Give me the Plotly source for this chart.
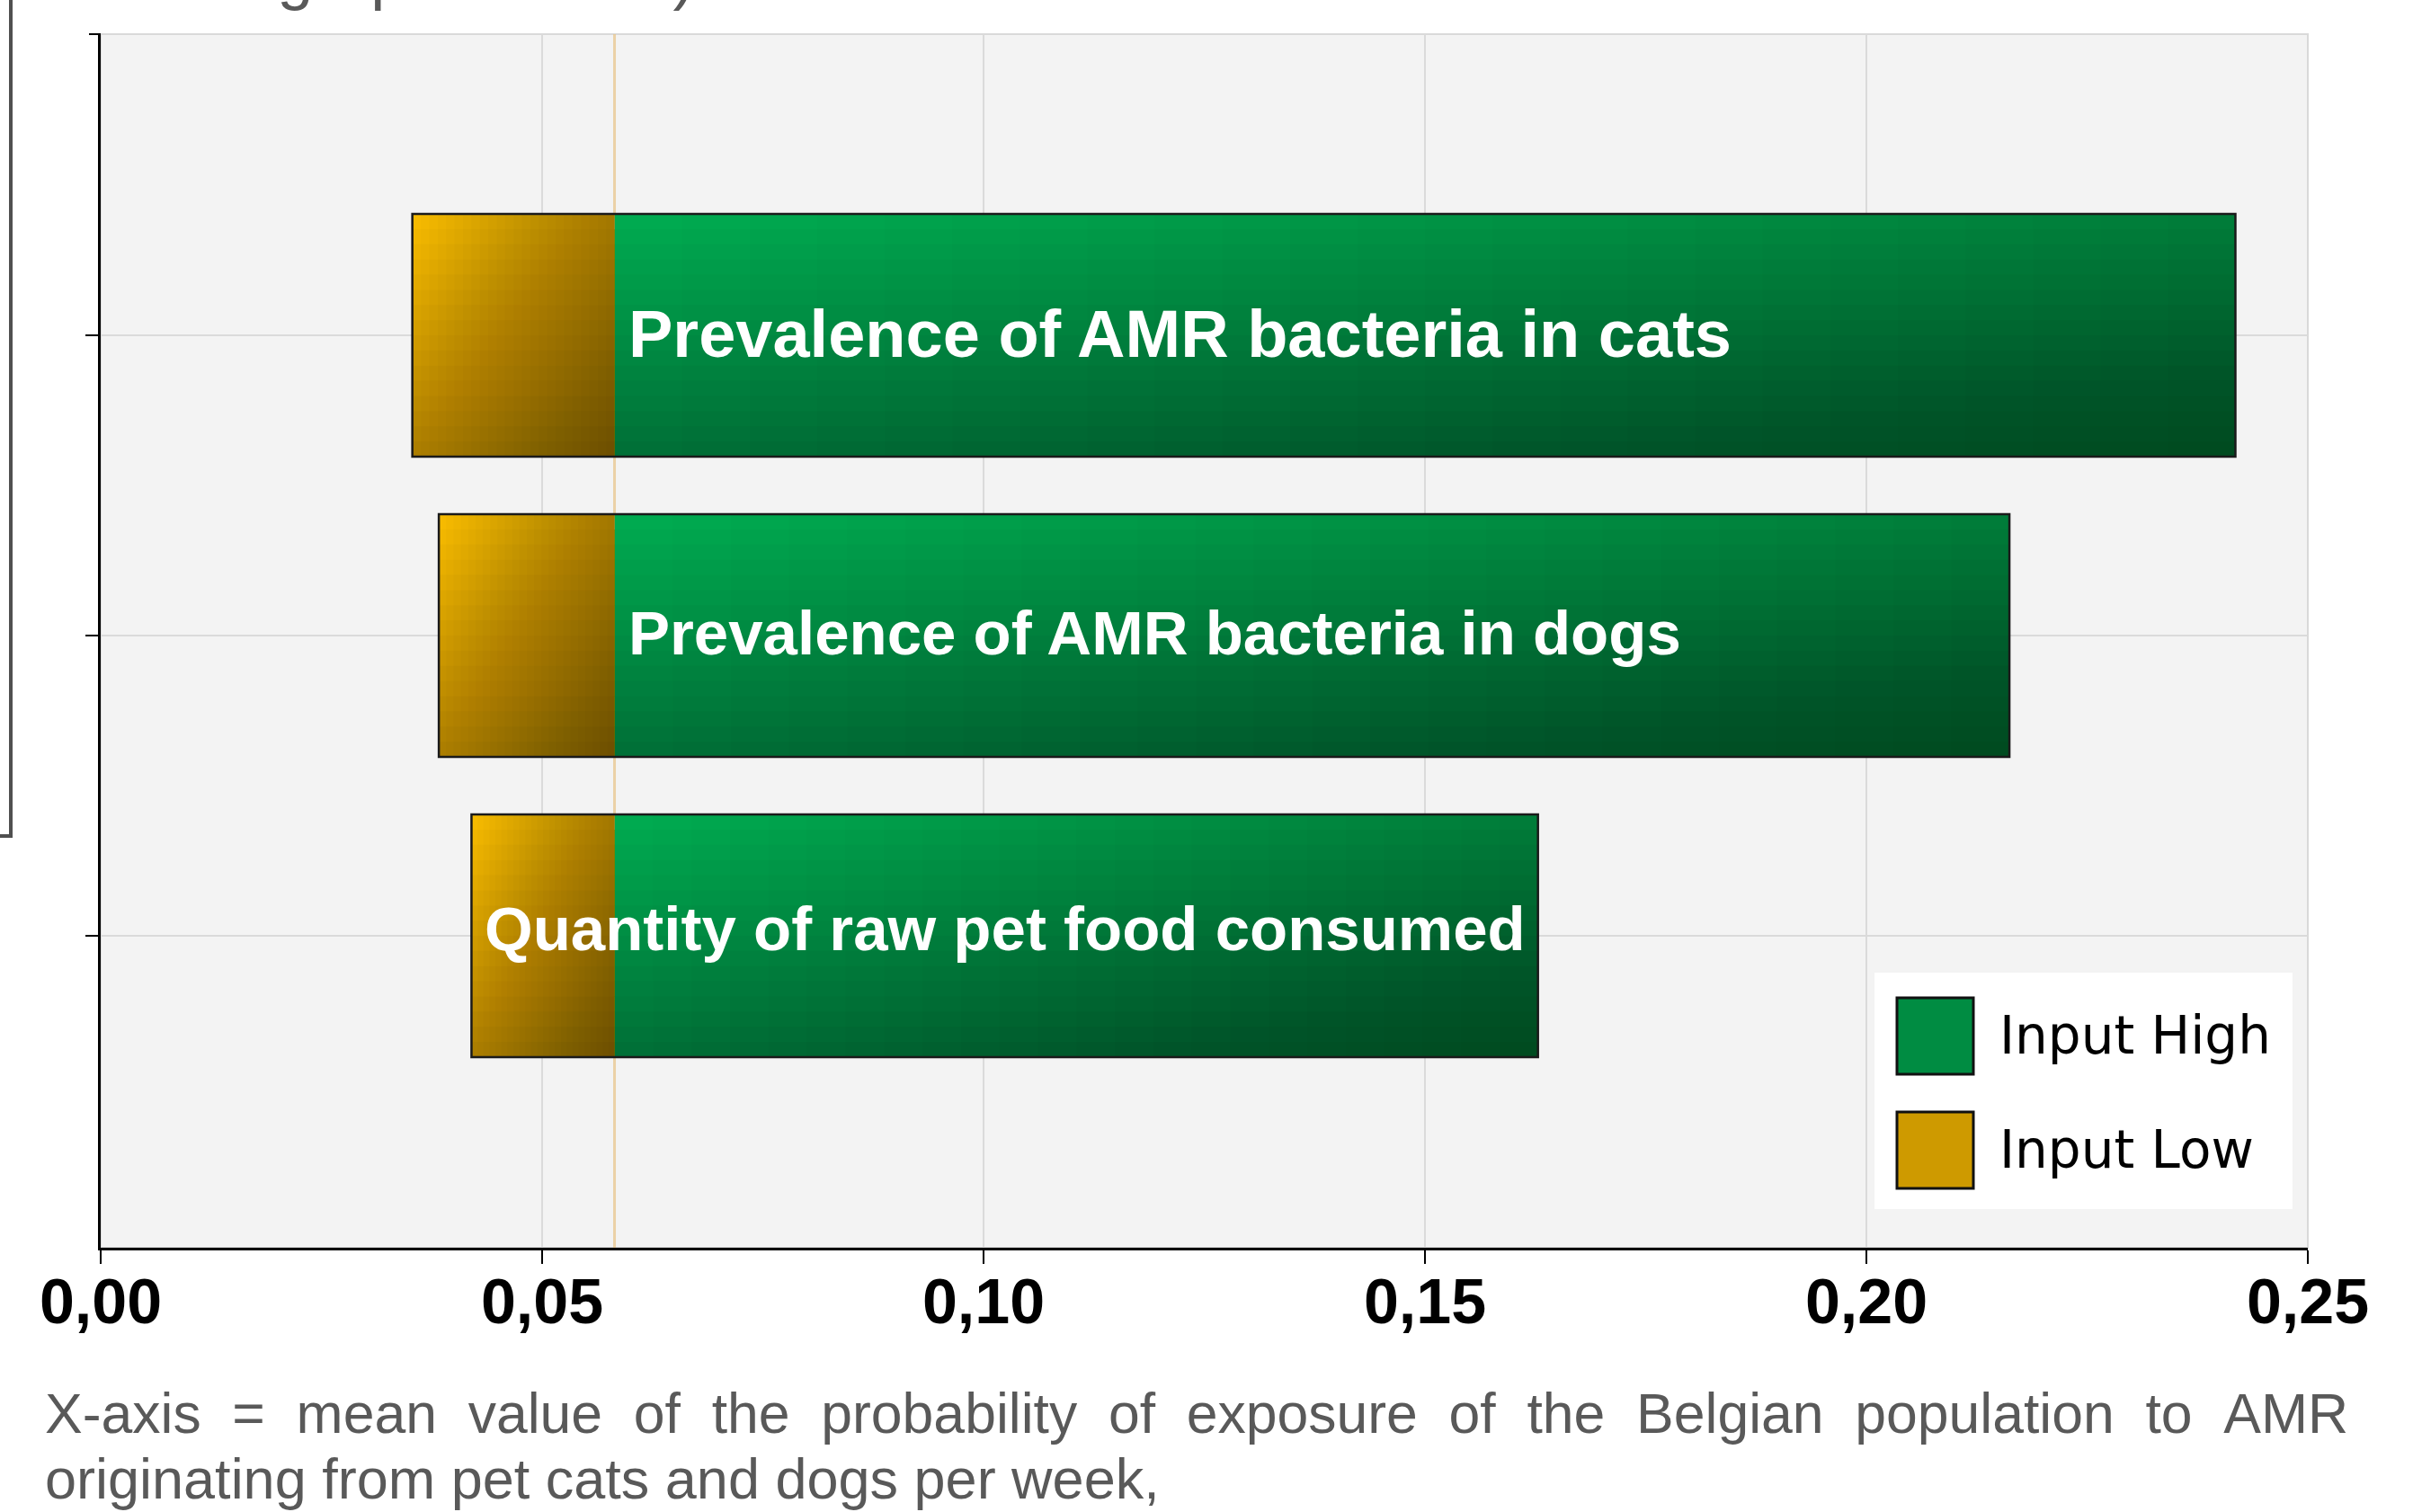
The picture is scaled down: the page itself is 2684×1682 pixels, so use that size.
import plotly.graph_objects as go

# ---------------- data ----------------
categories = [
    "Prevalence of AMR bacteria in cats",
    "Prevalence of AMR bacteria in dogs",
    "Quantity of raw pet food consumed",
]
low_values = [0.0353, 0.0383, 0.0420]     # "Input Low" end of each bar
high_values = [0.2418, 0.2162, 0.1628]    # "Input High" end of each bar
base_value = 0.0582                        # baseline (mean output)
x_tick_values = [0.00, 0.05, 0.10, 0.15, 0.20, 0.25]
x_tick_labels = ["0,00", "0,05", "0,10", "0,15", "0,20", "0,25"]
legend_names = ["Input High", "Input Low"]
caption_lines = [
    "X-axis = mean value of the probability of exposure of the Belgian population to AMR",
    "originating from pet cats and dogs per week,",
]
title_fragment = "Tornado graph of AMR)"

# ---------------- style ----------------
W, H = 2684, 1682
ML, MR, MT, MB = 112, 117, 38, 294
PW, PH = W - ML - MR, H - MT - MB
BAR_W = 0.808
GREEN_TOP, GREEN_BOT = (0, 170, 80), (0, 112, 55)
ORANGE_TOP, ORANGE_BOT = (246, 186, 0), (172, 126, 0)
N_V = 16   # vertical gradient steps
N_H = 24   # horizontal shading steps


def px_x(p):
    return (p - ML) / PW


def px_y(p):
    return (MT + PH - p) / PH


def mix(c1, c2, t):
    return "rgb(%d,%d,%d)" % tuple(round(a + (b - a) * t) for a, b in zip(c1, c2))


fig = go.Figure()

high_len = [h - base_value for h in high_values]
low_len = [base_value - l for l in low_values]

# vertical gradient (cumulative slices, top -> bottom)
for i in range(N_V):
    t = i / (N_V - 1)
    off = -BAR_W / 2 + i * BAR_W / N_V
    wid = BAR_W - i * BAR_W / N_V
    fig.add_trace(go.Bar(
        y=categories, x=high_len, base=base_value, orientation="h",
        width=wid, offset=off, marker=dict(color=mix(GREEN_TOP, GREEN_BOT, t), line=dict(width=0)),
        showlegend=False, hoverinfo="skip", name=legend_names[0]))
    fig.add_trace(go.Bar(
        y=categories, x=low_len, base=low_values, orientation="h",
        width=wid, offset=off, marker=dict(color=mix(ORANGE_TOP, ORANGE_BOT, t), line=dict(width=0)),
        showlegend=False, hoverinfo="skip", name=legend_names[1]))

# horizontal darkening (light on the left, darker to the right)
for k in range(1, N_H):
    f = k / N_H
    fig.add_trace(go.Bar(
        y=categories, x=[L * (1 - f) for L in high_len],
        base=[base_value + L * f for L in high_len], orientation="h",
        width=BAR_W, marker=dict(color="rgba(0,0,0,0.011)", line=dict(width=0)),
        showlegend=False, hoverinfo="skip"))
    fig.add_trace(go.Bar(
        y=categories, x=[L * (1 - f) for L in low_len],
        base=[l + L * f for l, L in zip(low_values, low_len)], orientation="h",
        width=BAR_W, marker=dict(color="rgba(0,0,0,0.017)", line=dict(width=0)),
        showlegend=False, hoverinfo="skip"))

# outline of every bar
fig.add_trace(go.Bar(
    y=categories, x=[h - l for h, l in zip(high_values, low_values)], base=low_values,
    orientation="h", width=BAR_W,
    marker=dict(color="rgba(0,0,0,0)", line=dict(color="#1a1a1a", width=2.5)),
    showlegend=False, hoverinfo="skip"))

# labels inside bars
label_sizes = [74, 69, 69]
for i, cat in enumerate(categories):
    if i < 2:
        fig.add_annotation(x=base_value, y=cat, xref="x", yref="y", text=cat,
                           xanchor="left", yanchor="middle", xshift=13, yshift=2,
                           showarrow=False,
                           font=dict(family="Liberation Sans, Arial", size=label_sizes[i],
                                     color="white", weight="bold"))
    else:
        fig.add_annotation(x=(low_values[i] + high_values[i]) / 2, y=cat, xref="x", yref="y",
                           text=cat, xanchor="center", yanchor="middle", yshift=7,
                           showarrow=False,
                           font=dict(family="Liberation Sans, Arial", size=label_sizes[i],
                                     color="white", weight="bold"))

shapes = []
# light border of plot area
shapes.append(dict(type="rect", xref="paper", yref="paper", x0=0, x1=1, y0=0, y1=1,
                   line=dict(color="#d9d9d9", width=2), layer="below"))
# baseline marker line
shapes.append(dict(type="line", xref="x", yref="paper", x0=base_value, x1=base_value, y0=0, y1=1,
                   line=dict(color="rgba(232,198,140,0.75)", width=3), layer="below"))
# top tick on y axis
shapes.append(dict(type="line", xref="paper", yref="paper", x0=px_x(99), x1=0, y0=1, y1=1,
                   line=dict(color="black", width=2)))
# left frame fragment (outer box)
shapes.append(dict(type="line", xref="paper", yref="paper", x0=px_x(12), x1=px_x(12),
                   y0=px_y(-5), y1=px_y(930), line=dict(color="#505050", width=4)))
shapes.append(dict(type="line", xref="paper", yref="paper", x0=px_x(-5), x1=px_x(14),
                   y0=px_y(930), y1=px_y(930), line=dict(color="#505050", width=4)))

# legend box (drawn manually to match the large swatches)
shapes.append(dict(type="rect", xref="paper", yref="paper", x0=px_x(2085), x1=px_x(2550),
                   y0=px_y(1345), y1=px_y(1082), line=dict(width=0), fillcolor="white"))
swatches = [((2110, 1110, 2195, 1195), "rgb(0,140,66)"), ((2110, 1237, 2195, 1322), "rgb(206,154,0)")]
for (x0, y0, x1, y1), col in swatches:
    shapes.append(dict(type="rect", xref="paper", yref="paper", x0=px_x(x0), x1=px_x(x1),
                       y0=px_y(y1), y1=px_y(y0), line=dict(color="#111111", width=3), fillcolor=col))
for name, yc in zip(legend_names, [1152, 1279]):
    fig.add_annotation(x=px_x(2222), y=px_y(yc), xref="paper", yref="paper", text=name,
                       xanchor="left", yanchor="middle", showarrow=False,
                       font=dict(family="DejaVu Sans", size=58, color="black"))

# caption below the chart (justified first line)
line1 = "\u00a0\u00a0".join(caption_lines[0].split(" "))
fig.add_annotation(x=px_x(48), y=px_y(1572), xref="paper", yref="paper", text=line1,
                   xanchor="left", yanchor="middle", showarrow=False,
                   font=dict(family="Liberation Sans, Arial", size=62.5, color="#595959"))
fig.add_annotation(x=px_x(48), y=px_y(1645), xref="paper", yref="paper", text=caption_lines[1],
                   xanchor="left", yanchor="middle", showarrow=False,
                   font=dict(family="Liberation Sans, Arial", size=63, color="#595959"))

# cut-off title fragment at the very top
fig.add_annotation(x=px_x(26), y=px_y(14), xref="paper", yref="paper", text=title_fragment,
                   xanchor="left", yanchor="bottom", showarrow=False,
                   font=dict(family="Liberation Sans, Arial", size=72, color="#595959"))

fig.update_layout(
    width=W, height=H,
    margin=dict(l=ML, r=MR, t=MT, b=MB, pad=0),
    paper_bgcolor="white", plot_bgcolor="#f3f3f3",
    barmode="overlay", showlegend=False,
    shapes=shapes,
    xaxis=dict(range=[0, 0.25], tickvals=x_tick_values, ticktext=x_tick_labels,
               showgrid=True, gridcolor="#dadada", gridwidth=1.5, zeroline=False,
               showline=True, linecolor="black", linewidth=2.5,
               ticks="outside", ticklen=15, tickwidth=2, tickcolor="black",
               tickfont=dict(family="Liberation Sans, Arial", size=70, color="black", weight="bold"),
               ticklabelstandoff=-18),
    yaxis=dict(type="category", categoryorder="array", categoryarray=categories,
               range=[3.039, -1.003], showticklabels=False,
               showgrid=True, gridcolor="#dadada", gridwidth=1.5, zeroline=False,
               showline=True, linecolor="black", linewidth=2.5,
               ticks="outside", ticklen=14, tickwidth=2, tickcolor="black"),
)

fig.write_html("out.html")
